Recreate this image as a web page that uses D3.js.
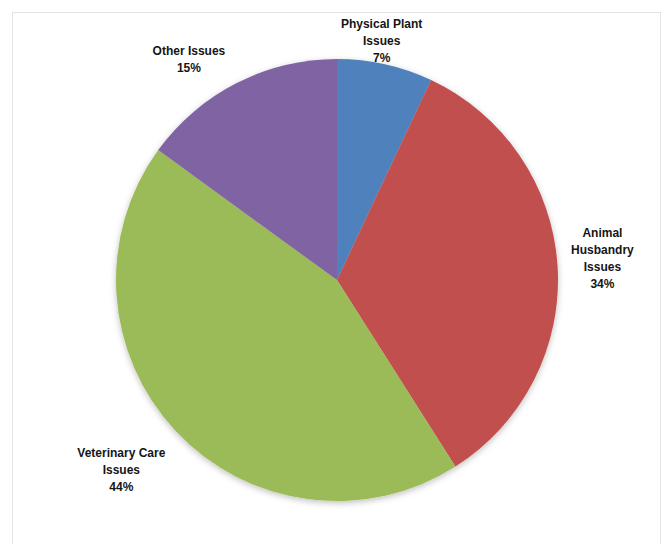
<!DOCTYPE html>
<meta charset="utf-8">
<head>
<style>
body { margin: 0; background: #fff; }
.label { font-family: "Liberation Sans", Arial, sans-serif; font-weight: bold; font-size: 12px; fill: #151515; }
</style>
</head>
<body>
<svg width="662" height="544"></svg>
<script src="https://d3js.org/d3.v7.min.js"></script>
<script>
const categories = ['Physical Plant Issues', 'Animal Husbandry Issues', 'Veterinary Care Issues', 'Other Issues'];
const values = [7, 34, 44, 15];
// how each label is broken over lines
const labelLines = [['Physical Plant', 'Issues'], ['Animal', 'Husbandry', 'Issues'], ['Veterinary Care', 'Issues'], ['Other Issues']];
const colors = ['#4f81bd', '#c0504d', '#9bbb59', '#8064a2'];

// label nudges from the outside-end position, Excel style
const labelNudge = [[-12, 15], [5, -5], [-18, 5], [-32, 8]];

let svg = d3.select('svg');
let cx = 337, cy = 280, r = 221;

// faint frame
svg.append('rect')
    .attr('x', 12.5).attr('y', 12.5)
    .attr('width', 648).attr('height', 545)
    .attr('fill', 'none')
    .attr('stroke', '#e4e4e4');

let defs = svg.append('defs');
let f = defs.append('filter').attr('id', 'shadow')
    .attr('x', '-10%').attr('y', '-10%').attr('width', '120%').attr('height', '120%');
f.append('feDropShadow')
    .attr('dx', 0).attr('dy', 2)
    .attr('stdDeviation', 3)
    .attr('flood-color', '#000')
    .attr('flood-opacity', 0.25);

let data = categories.map((c, i) => ({ name: c, value: values[i], lines: labelLines[i], color: colors[i] }));

let pie = d3.pie().sort(null).value(d => d.value);
let arc = d3.arc().innerRadius(0).outerRadius(r);
let arcs = pie(data);

let g = svg.append('g')
    .attr('transform', `translate(${cx}, ${cy})`);

g.append('g')
    .attr('filter', 'url(#shadow)')
    .selectAll('path')
    .data(arcs)
    .enter().append('path')
        .attr('d', arc)
        .attr('fill', d => d.data.color);

// labels outside the pie
let lineH = 17;
arcs.forEach((a, i) => {
    let mid = (a.startAngle + a.endAngle) / 2;
    let lines = a.data.lines.concat([Math.round(a.data.value) + '%']);
    let h = lines.length * lineH;
    let w = d3.max(lines, l => l.length) * 6.2;
    let sin = Math.sin(mid), cos = Math.cos(mid);
    let ext = Math.sqrt(Math.pow(w / 2 * sin, 2) + Math.pow(h / 2 * cos, 2));
    let R = r + 12 + ext;
    let x = R * sin + labelNudge[i][0];
    let y = -R * cos + labelNudge[i][1];
    let t = g.append('text')
        .attr('class', 'label')
        .attr('text-anchor', 'middle')
        .attr('x', x)
        .attr('y', y - h / 2 + lineH * 0.72);
    lines.forEach((l, j) => {
        t.append('tspan')
            .attr('x', x)
            .attr('dy', j === 0 ? 0 : lineH)
            .text(l);
    });
});
</script>
</body>
</html>
